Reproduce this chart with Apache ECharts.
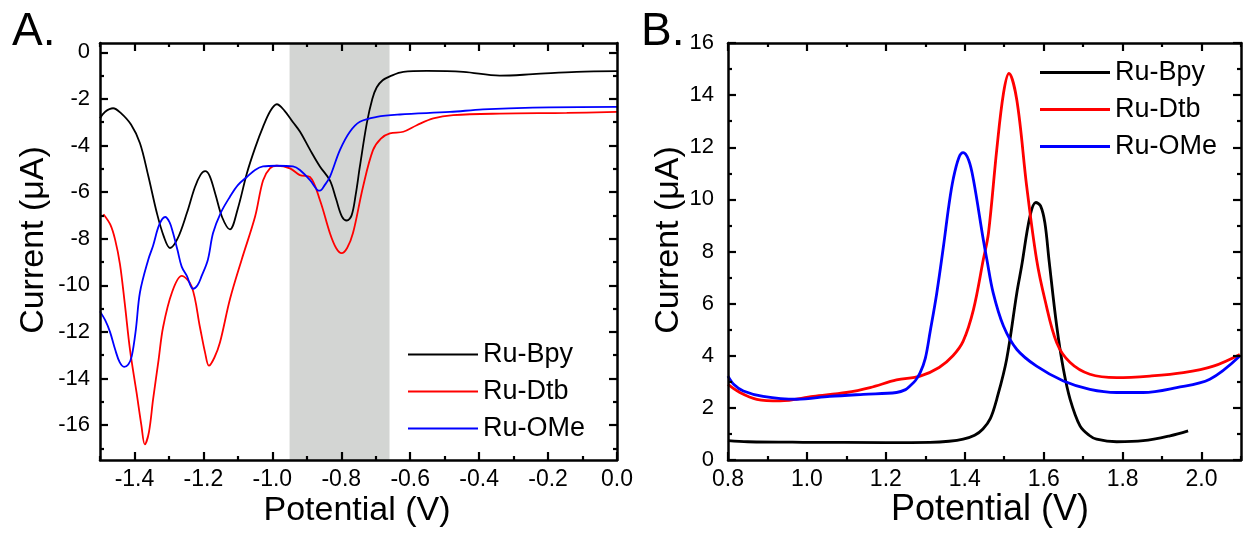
<!DOCTYPE html>
<html><head><meta charset="utf-8">
<script src="https://cdn.jsdelivr.net/npm/echarts@6/dist/echarts.min.js"></script>
<style>html,body{margin:0;padding:0;background:#fff}#c{width:1243px;height:533px}</style>
</head><body><div id="c"></div>
<script>
// ---------- Panel A data (potential V, current µA) ----------
const aBpyV = [-1.5,-1.485,-1.462,-1.44,-1.41,-1.384,-1.36,-1.335,-1.315,-1.297,-1.275,-1.248,-1.225,-1.208,-1.195,-1.182,-1.165,-1.145,-1.123,-1.1,-1.074,-1.05,-1.027,-1.005,-0.987,-0.965,-0.94,-0.92,-0.89,-0.862,-0.833,-0.815,-0.798,-0.784,-0.77,-0.758,-0.746,-0.726,-0.71,-0.697,-0.68,-0.659,-0.62,-0.552,-0.446,-0.34,-0.244,-0.117,0.0];
const aBpyI = [-2.83,-2.55,-2.4,-2.6,-3.1,-3.9,-5.3,-6.9,-7.9,-8.4,-8.0,-6.9,-5.8,-5.25,-5.1,-5.3,-6.1,-7.1,-7.6,-6.7,-5.2,-4.1,-3.2,-2.5,-2.23,-2.5,-3.0,-3.4,-4.2,-4.9,-5.5,-6.3,-7.05,-7.22,-7.0,-6.1,-4.9,-3.05,-2.0,-1.5,-1.2,-1.03,-0.84,-0.8,-0.84,-1.0,-0.94,-0.84,-0.81];

const aDtbV = [-1.49,-1.47,-1.456,-1.442,-1.428,-1.413,-1.394,-1.38,-1.37,-1.358,-1.346,-1.33,-1.317,-1.291,-1.263,-1.234,-1.21,-1.195,-1.184,-1.168,-1.152,-1.123,-1.089,-1.05,-1.027,-1.007,-0.987,-0.949,-0.92,-0.891,-0.862,-0.833,-0.815,-0.799,-0.783,-0.766,-0.737,-0.708,-0.685,-0.659,-0.62,-0.581,-0.533,-0.475,-0.34,-0.146,0.0];
const aDtbI = [-6.95,-7.4,-8.05,-9.1,-10.8,-12.76,-14.6,-16.0,-16.83,-16.3,-14.9,-13.2,-11.8,-10.3,-9.6,-10.05,-11.8,-12.9,-13.45,-13.1,-12.46,-10.6,-8.9,-7.05,-5.5,-4.98,-4.87,-4.98,-5.27,-5.35,-6.34,-7.76,-8.4,-8.62,-8.4,-7.76,-5.78,-4.2,-3.7,-3.48,-3.41,-3.13,-2.84,-2.7,-2.63,-2.6,-2.56];

const aOMeV = [-1.5,-1.485,-1.471,-1.456,-1.443,-1.43,-1.418,-1.408,-1.396,-1.384,-1.36,-1.346,-1.328,-1.311,-1.298,-1.288,-1.275,-1.263,-1.248,-1.23,-1.217,-1.205,-1.187,-1.172,-1.15,-1.123,-1.1,-1.074,-1.05,-1.027,-0.987,-0.94,-0.92,-0.89,-0.87,-0.862,-0.848,-0.833,-0.804,-0.775,-0.746,-0.697,-0.63,-0.485,-0.389,-0.244,0.0];
const aOMeI = [-11.12,-11.5,-12.0,-12.76,-13.3,-13.5,-13.4,-13.05,-11.9,-10.3,-8.9,-8.3,-7.4,-7.07,-7.3,-7.76,-8.5,-9.2,-9.6,-10.15,-10.0,-9.6,-8.9,-7.76,-6.9,-6.2,-5.7,-5.35,-5.05,-4.9,-4.87,-4.9,-5.05,-5.5,-5.9,-5.94,-5.7,-5.35,-4.2,-3.41,-2.98,-2.77,-2.67,-2.56,-2.45,-2.37,-2.34];

// ---------- Panel B data ----------
const bBpyV = [0.8,0.85,0.99,1.2,1.312,1.36,1.396,1.425,1.446,1.465,1.481,1.506,1.532,1.544,1.565,1.58,1.592,1.603,1.614,1.633,1.65,1.667,1.692,1.715,1.734,1.785,1.852,1.92,1.966];
const bBpyI = [0.74,0.7,0.68,0.67,0.68,0.72,0.8,0.95,1.19,1.6,2.33,3.86,6.42,7.43,9.34,9.88,9.75,9.1,7.6,5.14,3.48,2.33,1.31,0.95,0.8,0.7,0.74,0.93,1.12];

const bDtbV = [0.8,0.83,0.873,0.932,1.016,1.1,1.16,1.227,1.287,1.335,1.37,1.396,1.422,1.447,1.46,1.481,1.498,1.512,1.532,1.557,1.582,1.603,1.633,1.667,1.717,1.785,1.869,1.954,2.03,2.097];
const bDtbI = [2.9,2.59,2.33,2.27,2.44,2.59,2.78,3.07,3.22,3.55,4.0,4.56,5.77,7.69,8.7,11.9,14.06,14.83,13.8,10.49,7.69,6.16,4.5,3.74,3.29,3.16,3.22,3.35,3.6,4.05];

const bOMeV = [0.8,0.815,0.839,0.889,0.974,1.058,1.143,1.227,1.25,1.261,1.275,1.287,1.3,1.312,1.329,1.346,1.36,1.371,1.385,1.396,1.41,1.422,1.447,1.456,1.472,1.498,1.532,1.582,1.65,1.717,1.785,1.852,1.937,2.021,2.097];
const bOMeI = [3.22,2.9,2.65,2.44,2.33,2.44,2.52,2.59,2.7,2.84,3.05,3.35,3.9,4.9,6.4,8.2,9.8,10.8,11.6,11.79,11.5,10.75,8.45,7.69,6.41,5.14,4.24,3.6,3.03,2.71,2.59,2.59,2.78,3.1,3.99];

const seriesNames = ['Ru-Bpy','Ru-Dtb','Ru-OMe'];
const seriesColors = ['#000000','#ff0000','#0000ff'];

// ---------- Axes / ticks ----------
const aXMajor = [-1.4,-1.2,-1.0,-0.8,-0.6,-0.4,-0.2,0.0];
const aXMinor = [-1.5,-1.3,-1.1,-0.9,-0.7,-0.5,-0.3,-0.1];
const aYMajor = [-16,-14,-12,-10,-8,-6,-4,-2,0];
const aYMinor = [-17,-15,-13,-11,-9,-7,-5,-3,-1];
const bXMajor = [0.8,1.0,1.2,1.4,1.6,1.8,2.0];
const bXMinor = [0.9,1.1,1.3,1.5,1.7,1.9,2.1];
const bYMajor = [0,2,4,6,8,10,12,14,16];
const bYMinor = [1,3,5,7,9,11,13,15];
const aXRange = [-1.5, 0.0];
const aYRange = [-17.5, 0.4];
const bXRange = [0.8, 2.1];
const bYRange = [0, 16];
const shadeRange = [-0.95, -0.66];

const FONT = "'Liberation Sans', Arial, Helvetica, sans-serif";

function axis(grid, range, pos, ticks, len, showLine, label) {
  const a = {
    type: 'value', gridIndex: grid, min: range[0], max: range[1], position: pos, z: 5,
    axisLine: { show: showLine, onZero: false, lineStyle: { color: '#000', width: 2.5 } },
    axisTick: { show: true, inside: true, length: len, customValues: ticks, lineStyle: { color: '#000', width: 2.2 } },
    splitLine: { show: false }, minorTick: { show: false }, minorSplitLine: { show: false },
    axisLabel: { show: false }
  };
  if (label) {
    a.axisLabel = Object.assign({ show: true, customValues: ticks, color: '#000', fontFamily: FONT }, label);
  }
  return a;
}

const fmt1 = v => (Math.abs(v) < 1e-9 ? 0 : v).toFixed(1);
const fmt0 = v => String(Math.round(v));

const xAxes = [
  axis(0, aXRange, 'bottom', aXMajor, 8, true, { fontSize: 23, margin: 8, formatter: fmt1 }),
  axis(0, aXRange, 'top', aXMajor, 8, true),
  axis(0, aXRange, 'bottom', aXMinor, 4, false),
  axis(0, aXRange, 'top', aXMinor, 4, false),
  axis(1, bXRange, 'bottom', bXMajor, 8, true, { fontSize: 23, margin: 8, formatter: fmt1 }),
  axis(1, bXRange, 'top', bXMajor, 8, true),
  axis(1, bXRange, 'bottom', bXMinor, 4, false),
  axis(1, bXRange, 'top', bXMinor, 4, false)
];
const yAxes = [
  axis(0, aYRange, 'left', aYMajor, 8, true, { fontSize: 22, margin: 10, formatter: fmt0 }),
  axis(0, aYRange, 'right', aYMajor, 8, true),
  axis(0, aYRange, 'left', aYMinor, 4, false),
  axis(0, aYRange, 'right', aYMinor, 4, false),
  axis(1, bYRange, 'left', bYMajor, 8, true, { fontSize: 22, margin: 14, formatter: fmt0 }),
  axis(1, bYRange, 'right', bYMajor, 8, true),
  axis(1, bYRange, 'left', bYMinor, 4, false),
  axis(1, bYRange, 'right', bYMinor, 4, false)
];

function pairs(xs, ys) { return xs.map((x, i) => [x, ys[i]]); }

const aData = [pairs(aBpyV, aBpyI), pairs(aDtbV, aDtbI), pairs(aOMeV, aOMeI)];
const bData = [pairs(bBpyV, bBpyI), pairs(bDtbV, bDtbI), pairs(bOMeV, bOMeI)];

const series = [{
  type: 'line', name: 'shade', xAxisIndex: 0, yAxisIndex: 0, data: [], silent: true, z: 1,
  markArea: { silent: true, itemStyle: { color: '#d3d5d3' }, data: [[{ xAxis: shadeRange[0] }, { xAxis: shadeRange[1] }]] }
}];
seriesNames.forEach((n, i) => {
  series.push({ type: 'line', name: n, xAxisIndex: 0, yAxisIndex: 0, data: aData[i], showSymbol: false, symbol: 'none',
    smooth: 0.35, z: 3, lineStyle: { color: seriesColors[i], width: 1.8 }, itemStyle: { color: seriesColors[i] } });
});
seriesNames.forEach((n, i) => {
  series.push({ type: 'line', name: n, xAxisIndex: 4, yAxisIndex: 4, data: bData[i], showSymbol: false, symbol: 'none',
    smooth: 0.35, z: 3, lineStyle: { color: seriesColors[i], width: 2.8 }, itemStyle: { color: seriesColors[i] } });
});

function txt(x, y, text, size, rot) {
  return { type: 'text', x: x, y: y, rotation: rot || 0, z: 10,
    style: { text: text, fontSize: size, fontFamily: FONT, fill: '#000', align: 'center', verticalAlign: 'middle',
      textAlign: 'center', textVerticalAlign: 'middle' } };
}
function txtL(x, y, text, size) {
  return { type: 'text', x: x, y: y, z: 10,
    style: { text: text, fontSize: size, fontFamily: FONT, fill: '#000', align: 'left', verticalAlign: 'middle',
      textAlign: 'left', textVerticalAlign: 'middle' } };
}

const legendText = { fontSize: 27, color: '#000', fontFamily: FONT, lineHeight: 27 };

const option = {
  animation: false,
  backgroundColor: '#ffffff',
  grid: [
    { left: 100, top: 43, width: 517, height: 417, containLabel: false, outerBoundsMode: 'none' },
    { left: 728, top: 43, width: 513, height: 417, containLabel: false, outerBoundsMode: 'none' }
  ],
  xAxis: xAxes,
  yAxis: yAxes,
  legend: [
    { data: seriesNames, orient: 'vertical', left: 408, top: 341, padding: 0, itemGap: 10, itemWidth: 70, itemHeight: 2,
      icon: 'rect', textStyle: legendText, selectedMode: false },
    { data: seriesNames, orient: 'vertical', left: 1040, top: 59, padding: 0, itemGap: 10, itemWidth: 70, itemHeight: 3,
      icon: 'rect', textStyle: legendText, selectedMode: false }
  ],
  graphic: [
    txtL(12, 32, 'A.', 46),
    txtL(641, 32, 'B.', 46),
    txt(357, 511, 'Potential (V)', 34),
    txt(990, 510, 'Potential (V)', 36),
    txt(34, 240, 'Current (\u03bcA)', 34, Math.PI / 2),
    txt(669, 240, 'Current (\u03bcA)', 34, Math.PI / 2)
  ],
  series: series
};

const chart = echarts.init(document.getElementById('c'), null, { renderer: 'canvas' });
chart.setOption(option);
</script>
</body></html>
